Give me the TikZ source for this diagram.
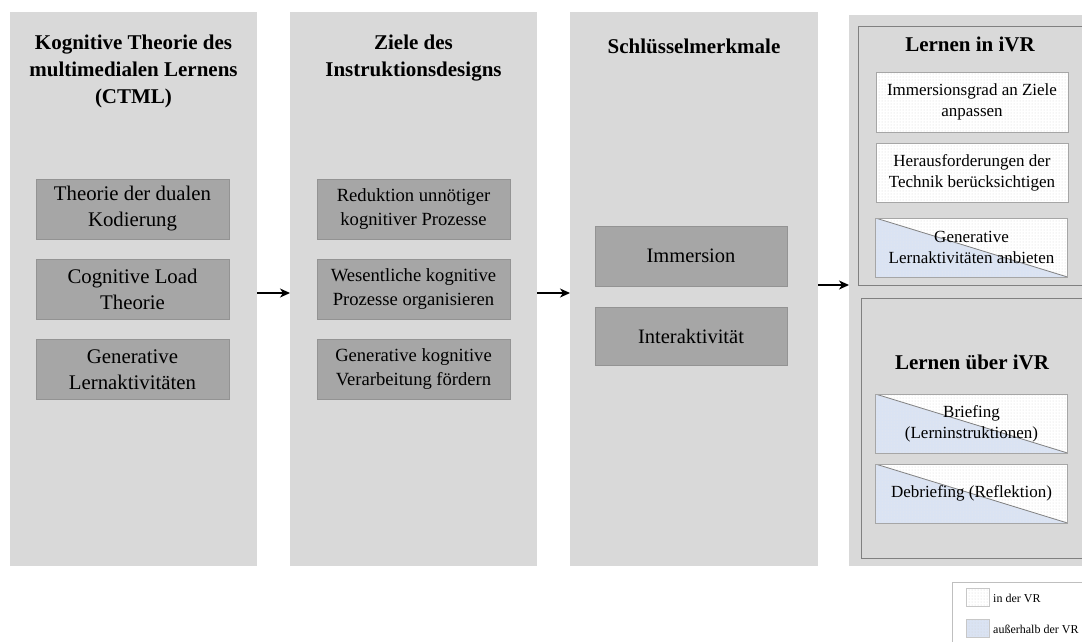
\documentclass[tikz,border=0pt]{standalone}
\usepackage{fontspec}
\setmainfont{Liberation Serif}
\usetikzlibrary{arrows.meta,patterns}
\definecolor{colbg}{HTML}{D9D9D9}
\definecolor{boxfill}{HTML}{A6A6A6}
\definecolor{boxdraw}{HTML}{939393}
\definecolor{panelline}{HTML}{808080}
\definecolor{wline}{HTML}{A6A6A6}
\definecolor{lblue}{HTML}{DAE3F3}
\definecolor{dotcol}{HTML}{D4D4D4}
\begin{document}
\begin{tikzpicture}[x=1pt,y=-1pt,
  column/.style={fill=colbg, draw=none, inner sep=0pt, anchor=north west},
  panel/.style={fill=colbg, draw=panelline, line width=0.9pt, inner sep=0pt, anchor=north west},
  title/.style={font=\bfseries\fontsize{21}{27}\selectfont, align=center, inner sep=0pt},
  gbox/.style={fill=boxfill, draw=boxdraw, line width=0.8pt, minimum width=193pt, minimum height=60pt, align=center, inner sep=0pt},
  dotted fill/.style={path picture={\fill[pattern=dots, pattern color=dotcol] (path picture bounding box.north west) rectangle (path picture bounding box.south east);}},
  wbox/.style={fill=white, draw=wline, line width=0.8pt, minimum width=192pt, minimum height=60pt, align=center, inner sep=0pt, font=\fontsize{17}{21}\selectfont,
    path picture={\fill[pattern=dots, pattern color=dotcol] (path picture bounding box.north west) rectangle (path picture bounding box.south east);}},
  sbox/.style={wbox, path picture={
    \fill[pattern=dots, pattern color=dotcol] (path picture bounding box.north west) rectangle (path picture bounding box.south east);
    \fill[lblue] (path picture bounding box.north west) -- (path picture bounding box.south west) -- (path picture bounding box.south east) -- cycle;
    \fill[pattern=dots, pattern color=black!8] (path picture bounding box.north west) -- (path picture bounding box.south west) -- (path picture bounding box.south east) -- cycle;
    \draw[panelline, line width=0.8pt] (path picture bounding box.north west) -- (path picture bounding box.south east);}},
  arr/.style={-{Stealth[length=10pt,width=9pt,inset=3pt]}, line width=1.4pt, black},
  leg/.style={font=\fontsize{12}{14}\selectfont, anchor=west, inner sep=0pt}
]
\useasboundingbox (0,0) rectangle (1082,641);
\fill[white] (0,0) rectangle (1082,641);
\begin{scope}
\clip (0,0) rectangle (1082,641);
% columns
\node[column, minimum width=247pt, minimum height=554pt] (c1) at (10,12) {};
\node[column, minimum width=247pt, minimum height=554pt] (c2) at (290,12) {};
\node[column, minimum width=248pt, minimum height=554pt] (c3) at (570,12) {};
\node[column, minimum width=260pt, minimum height=551pt] (c4) at (849,15) {};
\node[panel, minimum width=250pt, minimum height=259pt] (p1) at (858,26) {};
\node[panel, minimum width=250pt, minimum height=260pt] (p2) at (861,298) {};
% titles
\node[title] (t1) at (133.5,71) {Kognitive Theorie des\\multimedialen Lernens\\(CTML)};
\node[title] (t2) at (413.5,58) {Ziele des\\Instruktionsdesigns};
\node[title] (t3) at (694,46) {Schlüsselmerkmale};
\node[title] (t4) at (970,44) {Lernen in iVR};
\node[title] (t5) at (972,362) {Lernen über iVR};
% column 1
\begin{scope}[every node/.append style={font=\fontsize{20.8}{26}\selectfont}]
\node[gbox] (a1) at (132.5,209) {Theorie der dualen\\Kodierung};
\node[gbox] (a2) at (132.5,289.5) {Cognitive Load\\Theorie};
\node[gbox] (a3) at (132.5,369.5) {Generative\\Lernaktivitäten};
\end{scope}
% column 2
\begin{scope}[every node/.append style={font=\fontsize{18.6}{24}\selectfont}]
\node[gbox] (b1) at (413.5,209) {Reduktion unnötiger\\kognitiver Prozesse};
\node[gbox] (b2) at (413.5,289.5) {Wesentliche kognitive\\Prozesse organisieren};
\node[gbox] (b3) at (413.5,369.5) {Generative kognitive\\Verarbeitung fördern};
\end{scope}
% column 3
\begin{scope}[every node/.append style={font=\fontsize{20.5}{26}\selectfont}]
\node[gbox, minimum width=192pt] (d1) at (691,256) {Immersion};
\node[gbox, minimum width=192pt, minimum height=58pt] (d2) at (691,336) {Interaktivität};
\end{scope}
% column 4
\node[wbox] (e1) at (972,102) {Immersionsgrad an Ziele\\anpassen};
\node[wbox, minimum height=59pt] (e2) at (972,172.5) {Herausforderungen der\\Technik berücksichtigen};
\node[sbox, minimum height=59pt] (e3) at (971.5,247.5) {Generative\\Lernaktivitäten anbieten};
\node[sbox, minimum height=59pt] (f1) at (971.5,423.5) {Briefing\\(Lerninstruktionen)};
\node[sbox, minimum height=59pt] (f2) at (971.5,493.5) {Debriefing (Reflektion)};
% arrows
\coordinate (y1) at (0,293);
\coordinate (y2) at (0,285);
\draw[arr] (c1.east |- y1) -- (c2.west |- y1);
\draw[arr] (c2.east |- y1) -- (c3.west |- y1);
\draw[arr] (c3.east |- y2) -- (c4.west |- y2);
% legend
\node[draw=black!25, line width=0.6pt, fill=white, anchor=north west, inner sep=0pt, minimum width=200pt, minimum height=100pt] (lg) at (952,582) {};
\node[fill=white, draw=black!22, line width=0.6pt, minimum width=23pt, minimum height=18pt, inner sep=0pt, dotted fill] (s1) at (977.5,597) {};
\node[fill=lblue, draw=black!22, line width=0.6pt, minimum width=23pt, minimum height=18pt, inner sep=0pt, dotted fill] (s2) at (977.5,628) {};
\node[leg] (l1) at (993,598) {in der VR};
\node[leg] (l2) at (993,629) {außerhalb der VR};
\end{scope}
\end{tikzpicture}
\end{document}
